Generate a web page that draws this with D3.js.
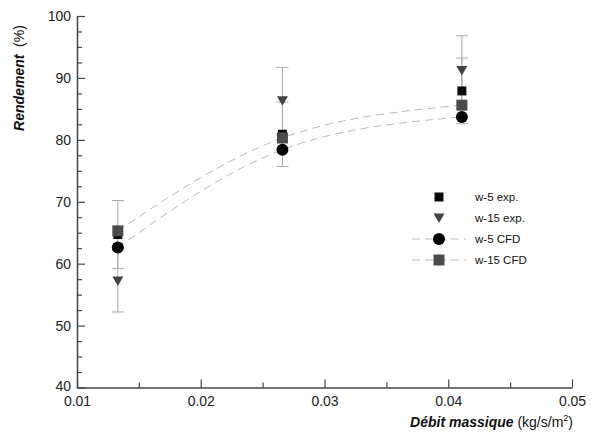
<!DOCTYPE html>
<html>
<head>
<meta charset="utf-8">
<script src="https://cdn.jsdelivr.net/npm/d3@7"></script>
<style>
  body { margin: 0; background: #fff; }
  svg { display: block; font-family: "Liberation Sans", Arial, sans-serif; }
  .tick text { fill: #222; font-size: 14px; }
  .domain { stroke: #444; stroke-width: 1.5; }
  .tick line { stroke: #444; stroke-width: 1.2; }
</style>
</head>
<body>
<div id="chart"></div>
<script>
var width = 594;
var height = 432;

// data
var debit = [0.0133, 0.0266, 0.0411];
var w5Exp = [64.7, 80.9, 87.9];
var w5ExpErr = [5.5, 5.2, 5.3];
var w15Exp = [57.2, 86.3, 91.2];
var w15ExpErr = [5.0, 5.4, 5.6];
var w5Cfd = [62.6, 78.4, 83.7];
var w15Cfd = [65.3, 80.3, 85.6];
var xTicks = [0.01, 0.02, 0.03, 0.04, 0.05];
var yTicks = [40, 50, 60, 70, 80, 90, 100];
var legendNames = ["w-5 exp.", "w-15 exp.", "w-5 CFD", "w-15 CFD"];

var svg = d3.select("#chart").append("svg").attr("width", width).attr("height", height);

var x = d3.scaleLinear().domain([0.01, 0.05]).range([77, 572]);
var y = d3.scaleLinear().domain([40, 100]).range([387.5, 16]);

// minor ticks
svg.append("g").attr("transform", "translate(0," + y(40) + ")")
  .call(d3.axisBottom(x).tickValues([0.015, 0.025, 0.035, 0.045]).tickSize(-5).tickFormat(""))
  .call(function(g) { g.select(".domain").remove(); });
svg.append("g").attr("transform", "translate(" + x(0.01) + ",0)")
  .call(d3.axisLeft(y).tickValues(d3.range(42.5, 100, 2.5).filter(function(v) { return v % 10 !== 0; })).tickSize(-5).tickFormat(""))
  .call(function(g) { g.select(".domain").remove(); });

// main axes
svg.append("g").attr("transform", "translate(0," + y(40) + ")")
  .call(d3.axisBottom(x).tickValues(xTicks).tickSize(-8).tickSizeOuter(0).tickPadding(9).tickFormat(d3.format(".2f")));
svg.append("g").attr("transform", "translate(" + x(0.01) + ",0)")
  .call(d3.axisLeft(y).tickValues(yTicks).tickSize(-8).tickSizeOuter(0).tickPadding(6))
  .call(function(g) { g.selectAll(".tick text").filter(function(d) { return d === 40; }).attr("dy", "0.2em"); });

// axis titles
var yt = svg.append("text")
  .attr("transform", "translate(24,78) rotate(-90)")
  .attr("text-anchor", "middle")
  .attr("font-size", 14)
  .attr("fill", "#111");
yt.append("tspan").attr("font-weight", "bold").attr("font-style", "italic").text("Rendement");
yt.append("tspan").text("\u00a0 (%)");

var xt = svg.append("text")
  .attr("x", 573).attr("y", 427)
  .attr("text-anchor", "end")
  .attr("font-size", 14)
  .attr("fill", "#111");
xt.append("tspan").attr("font-weight", "bold").attr("font-style", "italic").text("Débit massique");
xt.append("tspan").text(" (kg/s/m");
xt.append("tspan").attr("font-size", 9).attr("dy", -6).text("2");
xt.append("tspan").attr("dy", 6).text(")");

// error bars
function errorBars(vals, errs) {
  var g = svg.append("g").attr("stroke", "#aaa").attr("stroke-width", 1);
  vals.forEach(function(v, i) {
    var cx = x(debit[i]);
    g.append("line").attr("x1", cx).attr("x2", cx).attr("y1", y(v - errs[i])).attr("y2", y(v + errs[i]));
    g.append("line").attr("x1", cx - 6).attr("x2", cx + 6).attr("y1", y(v - errs[i])).attr("y2", y(v - errs[i]));
    g.append("line").attr("x1", cx - 6).attr("x2", cx + 6).attr("y1", y(v + errs[i])).attr("y2", y(v + errs[i]));
  });
}
errorBars(w5Exp, w5ExpErr);
errorBars(w15Exp, w15ExpErr);

// CFD dashed lines
var line = d3.line()
  .x(function(d, i) { return x(debit[i]); })
  .y(function(d) { return y(d); })
  .curve(d3.curveNatural);

[w5Cfd, w15Cfd].forEach(function(s) {
  svg.append("path").attr("d", line(s))
    .attr("fill", "none").attr("stroke", "#bbb").attr("stroke-width", 1)
    .attr("stroke-dasharray", "8,5");
});

// markers
function square(g, cx, cy, s, c) {
  g.append("rect").attr("x", cx - s / 2).attr("y", cy - s / 2).attr("width", s).attr("height", s).attr("fill", c);
}
function triangle(g, cx, cy, c) {
  g.append("path").attr("d", "M" + (cx - 5.5) + "," + (cy - 4.5) + "L" + (cx + 5.5) + "," + (cy - 4.5) + "L" + cx + "," + (cy + 5) + "Z").attr("fill", c);
}
function circle(g, cx, cy, c) {
  g.append("circle").attr("cx", cx).attr("cy", cy).attr("r", 6).attr("fill", c);
}

var marks = svg.append("g");
w5Exp.forEach(function(v, i) { square(marks, x(debit[i]), y(v), 9, "#0a0a0a"); });
w15Exp.forEach(function(v, i) { triangle(marks, x(debit[i]), y(v), "#444"); });
w15Cfd.forEach(function(v, i) { square(marks, x(debit[i]), y(v), 11, "#4a4a4a"); });
w5Cfd.forEach(function(v, i) { circle(marks, x(debit[i]), y(v), "#000"); });

// legend
var legendY = [197, 218, 239, 260];
var lg = svg.append("g");
legendNames.forEach(function(name, i) {
  var ly = legendY[i];
  if (i >= 2) {
    lg.append("line").attr("x1", 412).attr("x2", 466).attr("y1", ly).attr("y2", ly)
      .attr("stroke", "#bbb").attr("stroke-dasharray", "8,5");
  }
  if (i === 0) square(lg, 439, ly, 9, "#0a0a0a");
  if (i === 1) triangle(lg, 439, ly, "#444");
  if (i === 2) circle(lg, 439, ly, "#000");
  if (i === 3) square(lg, 439, ly, 11, "#4a4a4a");
  lg.append("text").attr("x", 475).attr("y", ly).attr("dy", "0.35em")
    .attr("font-size", 11.5).attr("fill", "#111").text(name);
});
</script>
</body>
</html>
